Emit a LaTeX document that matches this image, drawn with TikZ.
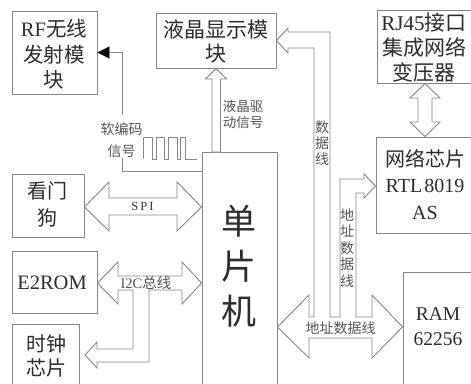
\documentclass[tikz,border=0pt]{standalone}
\usepackage{fontspec}
\setmainfont{Liberation Serif}
\newfontfamily\cjk{Noto Sans CJK SC}
\usetikzlibrary{arrows.meta}
\definecolor{edge}{RGB}{135,135,135}
\definecolor{ink}{RGB}{45,45,45}
\definecolor{lab}{RGB}{85,85,85}
\begin{document}
\begin{tikzpicture}[x=1pt,y=-1pt,
  box/.style={draw=edge,line width=0.9pt,fill=white,inner sep=0pt},
  btxt/.style={inner sep=0pt,align=center,text=ink,font={\fontsize{20.5}{25.5}\selectfont}},
  ltxt/.style={inner sep=0pt,align=center,text=lab,font={\fontsize{13.5}{16}\selectfont}},
  barrow/.style={draw=edge,line width=0.9pt,fill=white,line join=miter},
  wire/.style={draw=edge,line width=0.9pt}]
\useasboundingbox (0,0) rectangle (471,383);
\fill[white] (0,0) rectangle (471,383);

% boxes
\node[box,minimum width=85pt,minimum height=83pt] (rf) at (54.5,52.5) {};
\node[box,minimum width=120pt,minimum height=55pt] (lcd) at (216,40.5) {};
\node[box,minimum width=96pt,minimum height=73pt] (rj) at (425,46.5) {};
\node[box,minimum width=97pt,minimum height=96pt] (net) at (424.5,185) {};
\node[box,minimum width=72pt,minimum height=63pt] (wd) at (48,205.5) {};
\node[box,minimum width=85pt,minimum height=62pt] (e2) at (54.5,282) {};
\node[box,minimum width=67pt,minimum height=66pt] (clk) at (45.5,357) {};
\node[box,minimum width=75pt,minimum height=238pt] (mcu) at (239.5,271) {};
\node[box,minimum width=70pt,minimum height=118pt] (ram) at (438,331) {};

% box texts
\node[btxt] (rft) at (54,54.5) {RF{\cjk 无线}\\{\cjk 发射模}\\{\cjk 块}};
\node[btxt,font={\fontsize{21}{24}\selectfont}] (lcdt) at (215.5,42) {{\cjk 液晶显示模}\\{\cjk 块}};
\node[btxt,font={\fontsize{21}{25}\selectfont}] (rjt) at (424,48) {RJ45{\cjk 接口}\\{\cjk 集成网络}\\{\cjk 变压器}};
\node[btxt,font={\fontsize{20}{26.5}\selectfont}] (nett) at (425,184.5) {{\cjk 网络芯片}\\RTL\hspace{2pt}8019\\AS};
\node[btxt,font={\fontsize{20}{27}\selectfont}] (wdt) at (47.5,204.5) {{\cjk 看门}\\{\cjk 狗}};
\node[btxt] (e2t) at (52,283) {E2ROM};
\node[btxt,font={\fontsize{20}{24}\selectfont}] (clkt) at (47,356) {{\cjk 时钟}\\{\cjk 芯片}};
\node[btxt,font={\fontsize{35}{45}\selectfont}] (mcut) at (239,266) {{\cjk 单}\\{\cjk 片}\\{\cjk 机}};
\node[btxt,font={\fontsize{19.5}{25}\selectfont}] (ramt) at (438,326.5) {RAM\\62256};

% SPI double arrow
\draw[barrow] (wd.east |- 0,207) -- (109,182) -- (109,198) -- (177,198) -- (177,182)
  -- (mcu.west |- 0,207) -- (177,231) -- (177,215) -- (109,215) -- (109,231) -- cycle;
\node[ltxt,text=ink,font={\fontsize{12.5}{14}\selectfont}] (spi) at (142.5,206.5) {S\,P\,I};

% I2C bus with branch to clock chip
\draw[barrow] (e2.east |- 0,283) -- (118,262) -- (118,276) -- (182,276) -- (182,262)
  -- (mcu.west |- 0,283) -- (182,304) -- (182,290) -- (149,290) -- (149,362)
  -- (97,362) -- (97,368) -- (85,355) -- (97,342) -- (97,349) -- (133,349)
  -- (133,290) -- (118,290) -- (118,304) -- cycle;
\node[ltxt,font={\fontsize{14.5}{16}\selectfont}] (i2c) at (146,283) {I2C{\cjk 总线}};

% address/data bus with branches to LCD and network chip
\draw[barrow] (mcu.east |- 0,327) -- (309,295) -- (309,317) -- (314,317) -- (314,48)
  -- (288,48) -- (288,53) -- (lcd.east) -- (288,28) -- (288,32) -- (330,32)
  -- (330,317) -- (340,317) -- (340,179) -- (364,179) -- (364,174)
  -- (net.west |- 0,186) -- (364,198) -- (364,193) -- (356,193) -- (356,317)
  -- (372,317) -- (372,295) -- (ram.west |- 0,327) -- (372,358) -- (372,338)
  -- (309,338) -- (309,358) -- cycle;
\node[ltxt,font={\fontsize{14}{16}\selectfont}] (dbus) at (340.5,328) {{\cjk 地址数据线}};
\node[ltxt,font={\fontsize{14}{16}\selectfont}] (dline) at (322,143) {{\cjk 数}\\{\cjk 据}\\{\cjk 线}};
\node[ltxt,font={\fontsize{14}{16.5}\selectfont}] (aline) at (347,248) {{\cjk 地}\\{\cjk 址}\\{\cjk 数}\\{\cjk 据}\\{\cjk 线}};

% LCD drive arrow
\draw[barrow] (lcd.south) -- (226.5,79) -- (220.5,79) -- (220.5,152) -- (212,152)
  -- (212,79) -- (205.5,79) -- cycle;
\node[ltxt] (lcdl) at (243,114) {{\cjk 液晶驱}\\{\cjk 动信号}};

% RJ45 <-> network chip
\draw[barrow] (rj.south) -- (440,98) -- (432,98) -- (432,122) -- (440,122)
  -- (rj.south |- net.north) -- (410,122) -- (418,122) -- (418,98) -- (410,98) -- cycle;

% soft-coded signal to RF module
\coordinate (sw1) at (122,115);
\coordinate (sw2) at (122,158);
\coordinate (rfin) at (mcu.west |- 0,171);
\draw[wire,-{Triangle[length=12pt,width=12pt,color=black]}] (sw1) |- (rf.east);
\draw[wire] (sw2) |- (rfin);
\node[ltxt,font={\fontsize{14}{22}\selectfont}] (rfl) at (121.5,140) {{\cjk 软编码}\\{\cjk 信号}};
\draw[wire,line join=miter] (143,159) -- (143,137) -- (152,137) -- (152,159) -- (156,159)
  -- (156,137) -- (164,137) -- (164,159) -- (168,159) -- (168,137) -- (177,137)
  -- (177,159) -- (180,159) -- (180,137) -- (185,137) -- (185,159) -- (197,159);
\end{tikzpicture}
\end{document}
